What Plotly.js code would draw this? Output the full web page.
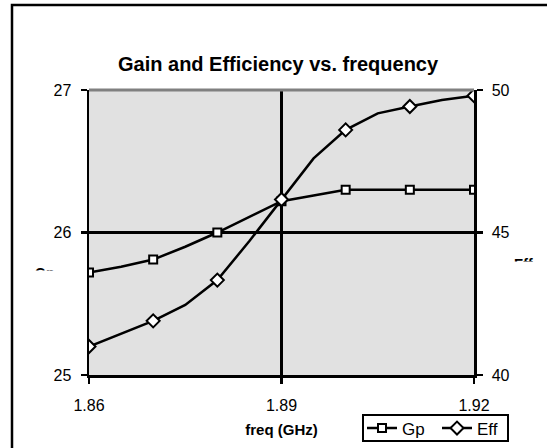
<!DOCTYPE html>
<html>
<head>
<meta charset="utf-8">
<script src="https://cdn.plot.ly/plotly-3.0.1.min.js"></script>
<style>
  html, body { margin: 0; padding: 0; background: #ffffff; }
  #chart { width: 547px; height: 448px; }
</style>
</head>
<body>
<div id="chart"></div>
<script>
// Data
const freq = [1.86, 1.865, 1.87, 1.875, 1.88, 1.885, 1.89, 1.895, 1.90, 1.905, 1.91, 1.915, 1.92];
const gp   = [25.72, 25.76, 25.81, 25.90, 26.00, 26.11, 26.22, 26.26, 26.30, 26.30, 26.30, 26.30, 26.30];
const eff  = [41.0, 41.44, 41.9, 42.46, 43.33, 44.7, 46.16, 47.6, 48.6, 49.18, 49.42, 49.65, 49.8];
const markerFreq = [1.86, 1.87, 1.88, 1.89, 1.90, 1.91, 1.92];
const xTicks = [1.86, 1.89, 1.92];
const xTickText = ["1.86", "1.89", "1.92"];
const gpTicks = [25, 26, 27];
const effTicks = [40, 45, 50];

const isMarker = (f) => markerFreq.some(m => Math.abs(m - f) < 1e-9);
const mf = freq.filter(isMarker);
const pick = (arr) => arr.filter((v, i) => isMarker(freq[i]));

const font = "Liberation Sans, Arial, sans-serif";
const black = "#000000";

const traces = [
  { x: freq, y: gp, mode: "lines", line: { color: black, width: 2.5 }, showlegend: false, hoverinfo: "skip" },
  { x: mf, y: pick(gp), mode: "markers", showlegend: false,
    marker: { symbol: "square", size: 8, color: "#ffffff", line: { color: black, width: 2 } } },
  { x: freq, y: eff, yaxis: "y2", mode: "lines", line: { color: black, width: 2.5 }, showlegend: false, hoverinfo: "skip" },
  { x: mf, y: pick(eff), yaxis: "y2", mode: "markers", showlegend: false,
    marker: { symbol: "diamond", size: 10, color: "#ffffff", line: { color: black, width: 2 } } },
  // legend entries
  { x: [null], y: [null], name: "Gp", mode: "lines+markers", line: { color: black, width: 2.5 },
    marker: { symbol: "square", size: 8, color: "#ffffff", line: { color: black, width: 2 } } },
  { x: [null], y: [null], name: "Eff", yaxis: "y2", mode: "lines+markers", line: { color: black, width: 2.5 },
    marker: { symbol: "diamond", size: 10, color: "#ffffff", line: { color: black, width: 2 } } }
];

const pxX = (px) => (px - 89) / 385;
const pxY = (py) => (375 - py) / 285;

const layout = {
  width: 547, height: 448,
  margin: { l: 89, r: 73, t: 90, b: 73, autoexpand: false },
  paper_bgcolor: "#ffffff",
  plot_bgcolor: "#e1e1e1",
  font: { family: font, color: black, size: 16 },
  showlegend: true,
  legend: {
    orientation: "h", x: pxX(362), xanchor: "left", y: pxY(428.5), yanchor: "middle",
    borderwidth: 0, bgcolor: "rgba(0,0,0,0)",
    font: { family: font, size: 17, color: black },
    itemwidth: 30, tracegroupgap: 0, maxheight: 60,
    entrywidth: 30, entrywidthmode: "pixels"
  },
  xaxis: {
    range: [1.86, 1.92], tickvals: xTicks, ticktext: xTickText,
    showline: true, linecolor: black, linewidth: 2.5, mirror: false,
    showgrid: true, gridcolor: black, gridwidth: 2.5,
    ticks: "outside", ticklen: 6, tickwidth: 2.5, tickcolor: black,
    ticklabelstandoff: 8,
    zeroline: false, automargin: false,
    title: { text: "<b>freq (GHz)</b>", font: { size: 15, family: font }, standoff: 12 }
  },
  yaxis: {
    range: [25, 27], tickvals: gpTicks,
    showline: true, linecolor: black, linewidth: 2.5,
    showgrid: true, gridcolor: black, gridwidth: 2.5,
    ticks: "outside", ticklen: 6, tickwidth: 2.5, tickcolor: black,
    ticklabelstandoff: 6, zeroline: false, automargin: false
  },
  yaxis2: {
    range: [40, 50], tickvals: effTicks, overlaying: "y", side: "right",
    showline: true, linecolor: black, linewidth: 2.5,
    showgrid: false,
    ticks: "outside", ticklen: 6, tickwidth: 2.5, tickcolor: black,
    ticklabelstandoff: 6, zeroline: false, automargin: false
  },
  shapes: [
    // gray top border of the plot area
    { type: "line", xref: "paper", yref: "paper", x0: 0, x1: 1, y0: 1, y1: 1,
      line: { color: "#808080", width: 3 }, layer: "above" },
    // outer chart frame (extends beyond the visible window right/bottom)
    { type: "rect", xref: "paper", yref: "paper", x0: pxX(12), x1: 1.3, y0: -0.5, y1: pxY(5),
      line: { color: black, width: 2.5 }, fillcolor: "rgba(0,0,0,0)", layer: "below" },
    // legend box
    { type: "rect", xref: "paper", yref: "paper", x0: pxX(363), x1: pxX(508), y0: pxY(441), y1: pxY(415),
      line: { color: black, width: 2 }, fillcolor: "#ffffff", layer: "below" }
  ],
  annotations: [
    { text: "<b>Gain and Efficiency vs. frequency</b>", xref: "paper", yref: "paper",
      x: pxX(116), xanchor: "left", y: pxY(64), yanchor: "middle",
      showarrow: false, font: { size: 20, family: font, color: black } },
    { text: "<b>Gp</b>", xref: "paper", yref: "paper", x: pxX(44), xanchor: "center",
      y: pxY(273), yanchor: "middle", showarrow: false, font: { size: 14, family: font } },
    { text: " ", xref: "paper", yref: "paper", x: pxX(44), xanchor: "center",
      y: pxY(270), yanchor: "top", showarrow: false, width: 36, height: 16,
      bgcolor: "#ffffff", font: { size: 10 } },
    { text: "<b>Eff</b>", xref: "paper", yref: "paper", x: pxX(523), xanchor: "center",
      y: pxY(264), yanchor: "middle", showarrow: false, font: { size: 14, family: font } },
    { text: " ", xref: "paper", yref: "paper", x: pxX(523), xanchor: "center",
      y: pxY(261), yanchor: "top", showarrow: false, width: 36, height: 16,
      bgcolor: "#ffffff", font: { size: 10 } }
  ]
};

Plotly.newPlot("chart", traces, layout, { displayModeBar: false, staticPlot: true });
</script>
</body>
</html>
